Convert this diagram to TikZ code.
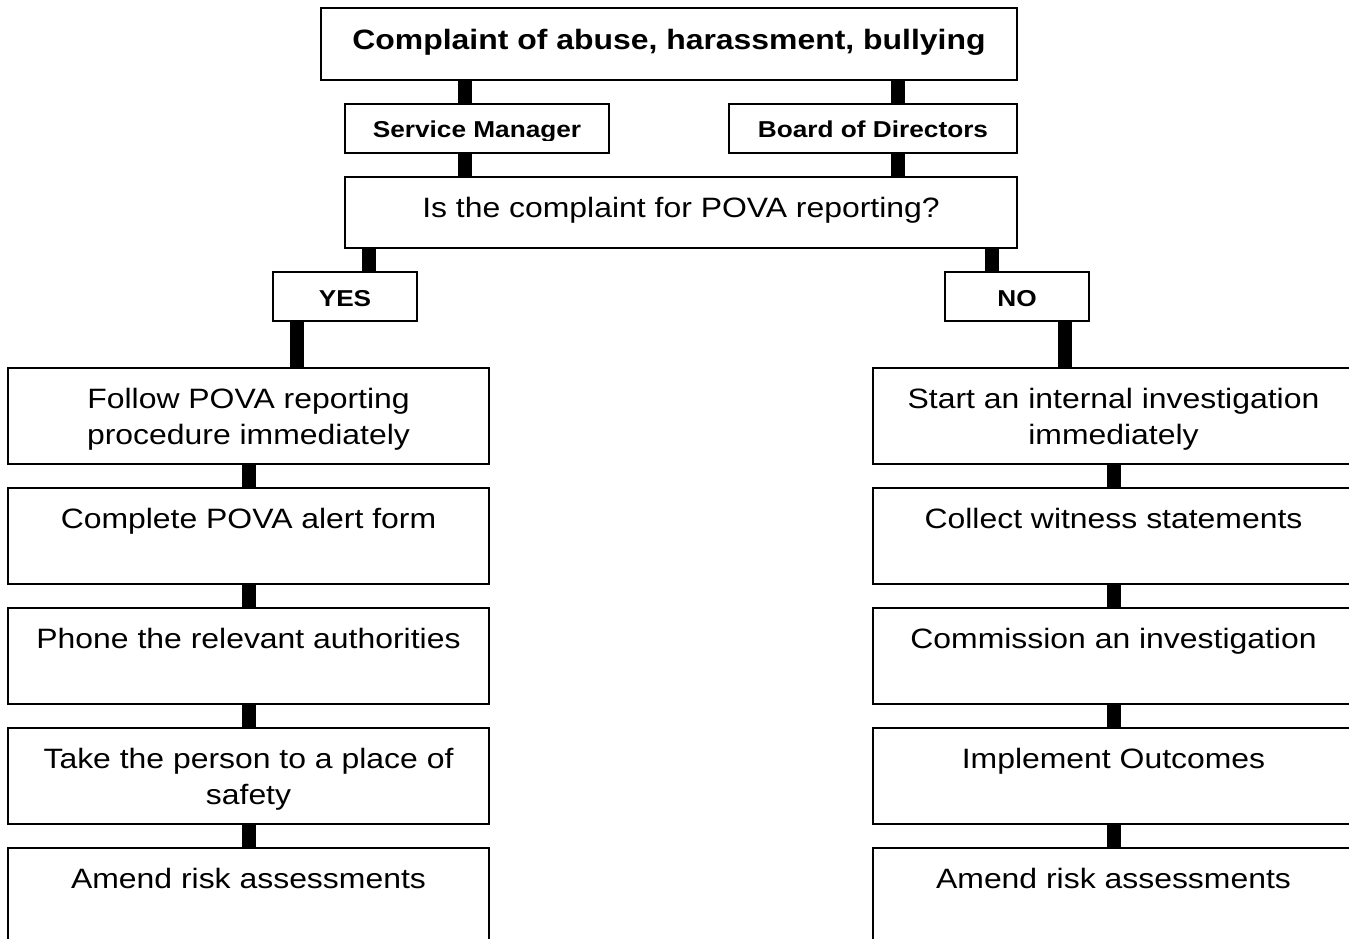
\documentclass[tikz,border=0pt]{standalone}
\usepackage{fontspec}
\setmainfont{Liberation Sans}[FakeStretch=1.14]
\begin{document}
\begin{tikzpicture}[x=1pt,y=-1pt,
  box/.style={draw=black, line width=1.5pt, fill=white, rectangle, inner sep=0pt, outer sep=0pt},
  conn/.style={line width=14pt, draw=black},
  big/.style={font=\fontsize{28}{36}\selectfont, align=center, inner sep=0pt, anchor=base},
  bigb/.style={font=\bfseries\fontsize{28}{36}\selectfont, inner sep=0pt, anchor=base},
  lab/.style={font=\bfseries\fontsize{23}{28}\selectfont, inner sep=0pt, anchor=base},
]
\useasboundingbox (0,0) rectangle (1349,939);
\clip (0,0) rectangle (1349,939);
\fill[white] (0,0) rectangle (1349,939);

% upper boxes
\node[box, minimum width=696pt, minimum height=72pt] (top) at (669,44) {};
\node[box, minimum width=264pt, minimum height=49pt] (sm) at (477,128.5) {};
\node[box, minimum width=288pt, minimum height=49pt] (bod) at (873,128.5) {};
\node[box, minimum width=672pt, minimum height=71pt] (q) at (681,212.5) {};
\node[box, minimum width=144pt, minimum height=49pt] (yes) at (345,296.5) {};
\node[box, minimum width=144pt, minimum height=49pt] (no) at (1017,296.5) {};

% left column
\node[box, minimum width=481pt, minimum height=96pt] (l1) at (248.5,416) {};
\node[box, minimum width=481pt, minimum height=96pt] (l2) at (248.5,536) {};
\node[box, minimum width=481pt, minimum height=96pt] (l3) at (248.5,656) {};
\node[box, minimum width=481pt, minimum height=96pt] (l4) at (248.5,776) {};
\node[box, minimum width=481pt, minimum height=96pt] (l5) at (248.5,896) {};
% right column
\node[box, minimum width=481pt, minimum height=96pt] (r1) at (1113.5,416) {};
\node[box, minimum width=481pt, minimum height=96pt] (r2) at (1113.5,536) {};
\node[box, minimum width=481pt, minimum height=96pt] (r3) at (1113.5,656) {};
\node[box, minimum width=481pt, minimum height=96pt] (r4) at (1113.5,776) {};
\node[box, minimum width=481pt, minimum height=96pt] (r5) at (1113.5,896) {};

% texts (for two-line texts the base anchor is the baseline of the last line)
\node[bigb] (ttop) at (669,50) {Complaint of abuse, harassment, bullying};
\begin{scope}
  \clip (345,104) rectangle (609,140.5);
  \node[lab] (tsm) at (477,138) {Service Manager};
\end{scope}
\node[lab] (tbod) at (873,138) {Board of Directors};
\node[big] (tq) at (681,217) {Is the complaint for POVA reporting?};
\node[lab] (tyes) at (345,306.5) {YES};
\node[lab] (tno) at (1017,306.5) {NO};

\node[big] (tl1) at (248.5,444) {Follow POVA reporting\\procedure immediately};
\node[big] (tl2) at (248.5,528) {Complete POVA alert form};
\node[big] (tl3) at (248.5,648) {Phone the relevant authorities};
\node[big] (tl4) at (248.5,804) {Take the person to a place of\\safety};
\node[big] (tl5) at (248.5,888) {Amend risk assessments};

\node[big] (tr1) at (1113.5,444) {Start an internal investigation\\immediately};
\node[big] (tr2) at (1113.5,528) {Collect witness statements};
\node[big] (tr3) at (1113.5,648) {Commission an investigation};
\node[big] (tr4) at (1113.5,768) {Implement Outcomes};
\node[big] (tr5) at (1113.5,888) {Amend risk assessments};

% connectors
\draw[conn] ([xshift=-12pt]sm.north) -- ([xshift=-12pt]sm.north |- top.south);
\draw[conn] ([xshift=25pt]bod.north) -- ([xshift=25pt]bod.north |- top.south);
\draw[conn] ([xshift=-12pt]sm.south) -- ([xshift=-12pt]sm.south |- q.north);
\draw[conn] ([xshift=25pt]bod.south) -- ([xshift=25pt]bod.south |- q.north);
\draw[conn] ([xshift=24pt]yes.north) -- ([xshift=24pt]yes.north |- q.south);
\draw[conn] ([xshift=-25pt]no.north) -- ([xshift=-25pt]no.north |- q.south);
\draw[conn] ([xshift=-48pt]yes.south) -- ([xshift=-48pt]yes.south |- l1.north);
\draw[conn] ([xshift=48pt]no.south) -- ([xshift=48pt]no.south |- r1.north);
\draw[conn] (l1.south) -- (l2.north);
\draw[conn] (l2.south) -- (l3.north);
\draw[conn] (l3.south) -- (l4.north);
\draw[conn] (l4.south) -- (l5.north);
\draw[conn] (r1.south) -- (r2.north);
\draw[conn] (r2.south) -- (r3.north);
\draw[conn] (r3.south) -- (r4.north);
\draw[conn] (r4.south) -- (r5.north);
\end{tikzpicture}
\end{document}
